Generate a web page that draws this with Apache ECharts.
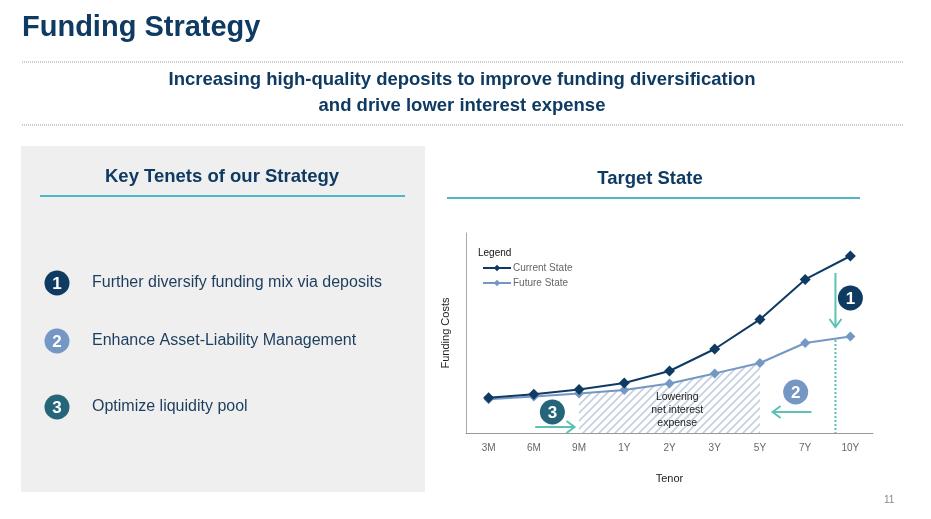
<!DOCTYPE html>
<html><head><meta charset="utf-8">
<script src="https://cdn.jsdelivr.net/npm/echarts@6/dist/echarts.min.js"></script>
<style>html,body{margin:0;padding:0;background:#fff}#c{width:931px;height:519px}</style>
</head><body><div id="c"></div>
<script>
var categories = ['3M','6M','9M','1Y','2Y','3Y','5Y','7Y','10Y'];
var currentState = [17.6, 19.4, 21.8, 25, 31, 42, 56.8, 76.8, 88.5];
var futureState  = [16.9, 18.2, 19.8, 21.5, 24.8, 29.8, 35, 45, 48.2];
var hatchFrom = 2, hatchTo = 6; // 9M .. 5Y
var tenets = ['Further diversify funding mix via deposits','Enhance Asset-Liability Management','Optimize liquidity pool'];

var FONT = '"Liberation Sans", Arial, sans-serif';
var NAVY = '#0f3a62', LIGHT = '#7597c4', TEAL = '#256579', ACC = '#5cc2b3', LINE_TEAL='#4fb6c9';

var hatchData = futureState.map(function(v,i){ return (i>=hatchFrom && i<=hatchTo) ? v : null; });

var pc = document.createElement('canvas'); pc.width = 8; pc.height = 8;
var g = pc.getContext('2d'); g.strokeStyle = '#c3cfe0'; g.lineWidth = 1.6;
g.beginPath(); g.moveTo(0,8); g.lineTo(8,0); g.moveTo(-2,2); g.lineTo(2,-2); g.moveTo(6,10); g.lineTo(10,6); g.stroke();

var chart = echarts.init(document.getElementById('c'));
var option = {
  backgroundColor: '#fff',
  animation: false,
  textStyle: { fontFamily: FONT },
  grid: { left: 466, right: 58, top: 233, bottom: 86 },
  legend: {
    orient: 'vertical', left: 482, top: 263, padding: 0, itemGap: 5, itemWidth: 28, itemHeight: 8,
    data: ['Current State','Future State'],
    textStyle: { color: '#666', fontSize: 10, fontFamily: FONT, padding: [0, 0, 0, -3] }
  },
  xAxis: {
    type: 'category', data: categories, boundaryGap: true,
    axisLine: { lineStyle: { color: '#999', width: 1 } },
    axisTick: { show: false },
    axisLabel: { color: '#666', fontSize: 10, margin: 10 },
    name: 'Tenor', nameLocation: 'middle', nameGap: 40,
    nameTextStyle: { color: '#222', fontSize: 11 }
  },
  yAxis: {
    type: 'value', min: 0, max: 100,
    axisLine: { show: true, lineStyle: { color: '#aaa', width: 1 } },
    axisTick: { show: false }, axisLabel: { show: false }, splitLine: { show: false },
    name: 'Funding Costs', nameLocation: 'middle', nameRotate: 90, nameGap: 15,
    nameTextStyle: { color: '#222', fontSize: 11 }
  },
  series: [
    { name: 'hatch', type: 'line', data: hatchData, symbol: 'none', lineStyle: { width: 0 },
      areaStyle: { color: { image: pc, repeat: 'repeat' }, opacity: 1 }, z: 1, silent: true },
    { name: 'Future State', type: 'line', data: futureState, symbol: 'diamond', symbolSize: 10,
      color: LIGHT, lineStyle: { width: 2, color: LIGHT }, itemStyle: { color: LIGHT }, z: 3 },
    { name: 'Current State', type: 'line', data: currentState, symbol: 'diamond', symbolSize: 11,
      color: NAVY, lineStyle: { width: 2, color: NAVY }, itemStyle: { color: NAVY }, z: 4 }
  ]
};
chart.setOption(option);

function px(idx, val) {
  var i0 = Math.floor(idx), i1 = Math.min(i0 + 1, categories.length - 1);
  var a = chart.convertToPixel({ gridIndex: 0 }, [i0, val]);
  var b = chart.convertToPixel({ gridIndex: 0 }, [i1, val]);
  var f = idx - i0;
  return [a[0] + (b[0] - a[0]) * f, a[1]];
}
function circle(c, color, label) {
  return [
    { type: 'circle', shape: { cx: c[0], cy: c[1], r: 12.5 }, style: { fill: color }, z: 10 },
    { type: 'text', x: c[0], y: c[1] + 1, style: { text: label, fill: '#fff', font: 'bold 17px ' + FONT, align: 'center', verticalAlign: 'middle' }, z: 11 }
  ];
}
function arrow(p, q, color) {
  var dx = q[0] - p[0], dy = q[1] - p[1], L = Math.sqrt(dx*dx + dy*dy), ux = dx / L, uy = dy / L;
  var h = 8, w = 6;
  var b1 = [q[0] - ux*h - uy*w, q[1] - uy*h + ux*w], b2 = [q[0] - ux*h + uy*w, q[1] - uy*h - ux*w];
  return [
    { type: 'line', shape: { x1: p[0], y1: p[1], x2: q[0], y2: q[1] }, style: { stroke: color, lineWidth: 2 }, z: 10 },
    { type: 'polyline', shape: { points: [b1, q, b2] }, style: { stroke: color, lineWidth: 2, fill: null }, z: 10 }
  ];
}

var els = [];
// slide text
els.push({ type: 'text', x: 22, y: 13, style: { text: 'Funding Strategy', fill: NAVY, font: 'bold 29px ' + FONT } });
els.push({ type: 'line', shape: { x1: 22, y1: 62, x2: 904, y2: 62 }, style: { stroke: '#999', lineWidth: 1, lineDash: [1, 1] } });
els.push({ type: 'text', x: 462, y: 80, style: { text: 'Increasing high-quality deposits to improve funding diversification', fill: NAVY, font: 'bold 18.5px ' + FONT, align: 'center', verticalAlign: 'middle' } });
els.push({ type: 'text', x: 462, y: 106, style: { text: 'and drive lower interest expense', fill: NAVY, font: 'bold 18.5px ' + FONT, align: 'center', verticalAlign: 'middle' } });
els.push({ type: 'line', shape: { x1: 22, y1: 125, x2: 904, y2: 125 }, style: { stroke: '#999', lineWidth: 1, lineDash: [1, 1] } });
// left panel
els.push({ type: 'rect', shape: { x: 21, y: 146, width: 404, height: 346 }, style: { fill: '#efefef' }, z: -1 });
els.push({ type: 'text', x: 222, y: 177, style: { text: 'Key Tenets of our Strategy', fill: NAVY, font: 'bold 18.5px ' + FONT, align: 'center', verticalAlign: 'middle' } });
els.push({ type: 'line', shape: { x1: 40, y1: 196, x2: 405, y2: 196 }, style: { stroke: LINE_TEAL, lineWidth: 2 } });
var tc = [NAVY, LIGHT, TEAL], ty = [283, 341, 407];
tenets.forEach(function (t, i) {
  els = els.concat(circle([57, ty[i]], tc[i], String(i + 1)));
  els.push({ type: 'text', x: 92, y: ty[i], style: { text: t, fill: '#1d3d5e', font: '16px ' + FONT, verticalAlign: 'middle' } });
});
// right header
els.push({ type: 'text', x: 650, y: 179, style: { text: 'Target State', fill: NAVY, font: 'bold 18.5px ' + FONT, align: 'center', verticalAlign: 'middle' } });
els.push({ type: 'line', shape: { x1: 447, y1: 198, x2: 860, y2: 198 }, style: { stroke: LINE_TEAL, lineWidth: 2 } });
els.push({ type: 'text', x: 478, y: 253, style: { text: 'Legend', fill: '#111', font: '10px ' + FONT, verticalAlign: 'middle' } });
els.push({ type: 'text', x: 884, y: 500, style: { text: '11', fill: '#888', font: '10px ' + FONT, verticalAlign: 'middle' } });

// annotations (data-space positions)
var dTop = px(7.67, 46.5), dBot = px(7.67, 0);
els.push({ type: 'line', shape: { x1: dTop[0], y1: dTop[1], x2: dBot[0], y2: dBot[1] }, style: { stroke: ACC, lineWidth: 2, lineDash: [2, 2] }, z: 9 });
els = els.concat(arrow(px(7.67, 80), px(7.67, 53), ACC));
els = els.concat(circle(px(8.16, 67.5), NAVY, '1'));
els = els.concat(circle(px(6.79, 20.5), LIGHT, '2'));
els = els.concat(arrow(px(7.14, 10.5), px(6.28, 10.5), ACC));
els = els.concat(circle(px(1.41, 10.5), TEAL, '3'));
els = els.concat(arrow(px(1.03, 3), px(1.9, 3), ACC));
var tl = ['Lowering', 'net interest', 'expense'], tv = [17.8, 11.2, 4.8];
tl.forEach(function (s, i) {
  var p = px(4.17, tv[i]);
  els.push({ type: 'text', x: p[0], y: p[1], style: { text: s, fill: '#222', font: '10.5px ' + FONT, align: 'center', verticalAlign: 'middle' }, z: 10 });
});

chart.setOption({ graphic: { elements: els } });
</script></body></html>
